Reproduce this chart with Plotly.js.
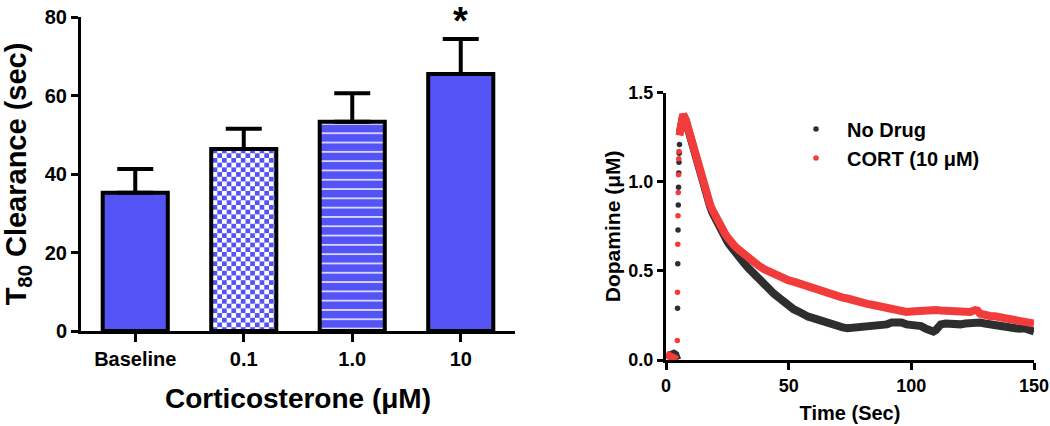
<!DOCTYPE html>
<html>
<head>
<meta charset="utf-8">
<script src="https://cdn.plot.ly/plotly-3.0.1.min.js"></script>
<style>html,body{margin:0;padding:0;background:#fff;}#chart{width:1050px;height:426px;}</style>
</head>
<body>
<div id="chart"></div>
<script>
// ---------- Left panel: T80 clearance bars ----------
const barCategories = ['Baseline', '0.1', '1.0', '10'];
const barMeans = [35.2, 46.4, 53.3, 65.5];
const barSEM = [6.1, 5.1, 7.3, 8.9];
const sigLabel = '*';
const sigCategory = '10';
const sigY = 78.9;

// ---------- Right panel: dopamine traces ----------
// No Drug
const noDrugBaseT = [0.8, 1.5, 2.5, 3.2, 3.8, 4.3, 4.6];
const noDrugBaseC = [0.02, 0.025, 0.035, 0.035, 0.03, 0.012, 0.0];
const noDrugRiseT = [4.7, 4.8, 4.9, 5.0, 5.1, 5.2, 5.3, 5.4, 5.5];
const noDrugRiseC = [0.29, 0.54, 0.73, 0.87, 0.97, 1.05, 1.11, 1.16, 1.21];
const noDrugDecayT = [5.7, 6.2, 7, 8, 9, 10, 11, 12, 13, 14, 15, 16, 17, 18, 19, 20, 21, 22, 23, 24, 25, 26, 27, 28, 30, 32, 34, 36, 38, 40, 42, 44, 46, 48, 50, 52, 54, 56, 58, 60, 62, 64, 66, 68, 70, 72, 74, 76, 78, 79, 80, 82, 84, 86, 88, 90, 92, 94, 96, 98, 100, 102, 104, 106, 108, 109, 110, 112, 114, 116, 118, 120, 122, 124, 126, 128, 130, 132, 134, 136, 138, 140, 142, 144, 146, 148, 150];
const noDrugDecayC = [1.28, 1.34, 1.372, 1.345, 1.295, 1.245, 1.19, 1.13, 1.08, 1.03, 0.98, 0.935, 0.895, 0.86, 0.825, 0.795, 0.765, 0.735, 0.71, 0.685, 0.665, 0.645, 0.625, 0.605, 0.57, 0.54, 0.51, 0.48, 0.455, 0.425, 0.398, 0.372, 0.35, 0.325, 0.30, 0.285, 0.272, 0.255, 0.243, 0.235, 0.225, 0.215, 0.208, 0.198, 0.19, 0.183, 0.178, 0.18, 0.178, 0.19, 0.185, 0.185, 0.19, 0.19, 0.195, 0.20, 0.21, 0.215, 0.21, 0.20, 0.197, 0.195, 0.19, 0.175, 0.165, 0.16, 0.168, 0.20, 0.205, 0.20, 0.205, 0.20, 0.205, 0.21, 0.215, 0.21, 0.205, 0.20, 0.195, 0.19, 0.185, 0.178, 0.18, 0.175, 0.178, 0.17, 0.16];

// CORT (10 uM)
const cortBaseT = [0, 1, 2, 3, 3.8, 4.4];
const cortBaseC = [0.032, 0.028, 0.02, 0.012, 0.006, 0.0];
const cortRiseT = [4.6, 4.7, 4.8, 4.9, 5.0, 5.1, 5.2, 5.3];
const cortRiseC = [0.11, 0.38, 0.65, 0.81, 0.94, 1.04, 1.13, 1.17];
const cortDecayT = [5.5, 6.1, 7, 8, 9, 10, 11, 12, 13, 14, 15, 16, 17, 18, 19, 20, 21, 22, 23, 24, 25, 26, 28, 30, 32, 34, 36, 38, 40, 42, 44, 46, 48, 50, 52, 54, 56, 58, 60, 62, 64, 66, 68, 70, 72, 74, 76, 78, 80, 82, 84, 86, 88, 90, 92, 94, 96, 98, 100, 102, 104, 106, 108, 110, 112, 114, 116, 118, 120, 122, 124, 126, 127, 128, 130, 132, 134, 136, 138, 140, 142, 144, 146, 148, 150];
const cortDecayC = [1.26, 1.34, 1.38, 1.35, 1.30, 1.25, 1.20, 1.14, 1.09, 1.04, 0.99, 0.945, 0.905, 0.87, 0.84, 0.81, 0.78, 0.755, 0.73, 0.71, 0.69, 0.67, 0.64, 0.615, 0.59, 0.565, 0.545, 0.527, 0.51, 0.495, 0.48, 0.468, 0.457, 0.447, 0.44, 0.43, 0.425, 0.415, 0.41, 0.40, 0.39, 0.375, 0.365, 0.36, 0.35, 0.345, 0.335, 0.33, 0.325, 0.315, 0.31, 0.305, 0.30, 0.29, 0.28, 0.275, 0.27, 0.27, 0.272, 0.275, 0.277, 0.275, 0.28, 0.28, 0.278, 0.276, 0.278, 0.275, 0.27, 0.265, 0.27, 0.28, 0.277, 0.26, 0.25, 0.247, 0.245, 0.24, 0.237, 0.234, 0.228, 0.225, 0.22, 0.215, 0.205];

const seriesNames = ['No Drug', 'CORT (10 \u03BCM)'];

// ---------- styling ----------
const BLUE = '#5454F6';
const RED = '#F23B3B';
const DARK = '#2E2E2E';
const FONT = 'Liberation Sans, Arial, Helvetica, sans-serif';
const f = (size) => ({family: FONT, size: size, color: '#000', weight: 'bold'});
const CHECK = 9.4;

const bars = {
  type: 'bar', x: barCategories, y: barMeans, xaxis: 'x', yaxis: 'y',
  width: 0.6, showlegend: false,
  marker: {
    color: BLUE,
    line: {color: '#000', width: 4},
    pattern: {
      shape: ['', '.', '-', ''],
      fgcolor: [BLUE, BLUE, '#FFFFFF', BLUE],
      bgcolor: [BLUE, '#FFFFFF', BLUE, BLUE],
      size: [8, CHECK, 9.3, 8],
      solidity: [0.5, 0.5, 0.15, 0.5]
    }
  },
  error_y: {type: 'data', symmetric: false, array: barSEM, arrayminus: barSEM.map(() => 0),
            color: '#000', thickness: 4, width: 18}
};

function lineTrace(baseT, baseC, decayT, decayC, color) {
  return {type: 'scatter', mode: 'lines', xaxis: 'x2', yaxis: 'y2', showlegend: false,
    x: baseT.concat([null], decayT), y: baseC.concat([null], decayC),
    line: {color: color, width: 8}, connectgaps: false, cliponaxis: false, hoverinfo: 'skip'};
}
function dotTrace(riseT, riseC, color, name) {
  return {type: 'scatter', mode: 'markers', xaxis: 'x2', yaxis: 'y2', name: name,
    x: riseT, y: riseC, marker: {color: color, size: 5.5}, cliponaxis: false};
}

const data = [
  bars,
  lineTrace(noDrugBaseT, noDrugBaseC, noDrugDecayT, noDrugDecayC, DARK),
  dotTrace(noDrugRiseT, noDrugRiseC, DARK, seriesNames[0]),
  lineTrace(cortBaseT, cortBaseC, cortDecayT, cortDecayC, RED),
  dotTrace(cortRiseT, cortRiseC, RED, seriesNames[1])
];

const layout = {
  width: 1050, height: 426,
  margin: {l: 0, r: 0, t: 0, b: 0},
  paper_bgcolor: '#fff', plot_bgcolor: 'rgba(0,0,0,0)',
  font: f(18),
  showlegend: true,
  legend: {x: 785/1050, y: 0.743, xanchor: 'left', yanchor: 'top', font: f(20),
           bgcolor: 'rgba(0,0,0,0)', itemwidth: 52, tracegroupgap: 0},
  xaxis: {
    domain: [81/1050, 515/1050], anchor: 'y', type: 'category', range: [-0.5, 3.5],
    showline: true, linewidth: 3, linecolor: '#000', ticks: 'outside', ticklen: 8,
    tickwidth: 3, tickcolor: '#000', tickfont: f(20), showgrid: false, zeroline: false,
    title: {text: 'Corticosterone (\u03BCM)', font: f(28), standoff: 20}, automargin: false
  },
  yaxis: {
    domain: [95/426, 409/426], anchor: 'x', range: [0, 80], dtick: 20,
    showline: true, linewidth: 3, linecolor: '#000', ticks: 'outside', ticklen: 7,
    tickwidth: 3, tickcolor: '#000', tickfont: f(20), showgrid: false, zeroline: false,
    title: {text: 'T<sub>80</sub> Clearance (sec)', font: f(29), standoff: 10}, automargin: false
  },
  xaxis2: {
    domain: [666/1050, 1034/1050], anchor: 'y2', range: [0, 150], dtick: 50,
    showline: true, linewidth: 3, linecolor: '#000', ticks: 'outside', ticklen: 7,
    tickwidth: 3, tickcolor: '#000', tickfont: f(18), showgrid: false, zeroline: false,
    title: {text: 'Time (Sec)', font: f(20), standoff: 12}, automargin: false
  },
  yaxis2: {
    domain: [66/426, 333.3/426], anchor: 'x2', range: [0, 1.5], dtick: 0.5, tickformat: '.1f',
    showline: true, linewidth: 3, linecolor: '#000', ticks: 'outside', ticklen: 6,
    tickwidth: 3, tickcolor: '#000', tickfont: f(18), showgrid: false, zeroline: false,
    title: {text: 'Dopamine (\u03BCM)', font: f(21), standoff: 3}, automargin: false
  },
  annotations: [{
    xref: 'x', yref: 'y', x: barCategories.indexOf(sigCategory), y: sigY, text: sigLabel,
    showarrow: false, font: f(38), xanchor: 'center', yanchor: 'middle'
  }]
};

const SVGNS = 'http://www.w3.org/2000/svg';
Plotly.newPlot('chart', data, layout, {staticPlot: true, displayModeBar: false}).then(function (gd) {
  // turn the dotted pattern tile of the 0.1 bar into a checkerboard tile
  const h = CHECK / 2;
  gd.querySelectorAll('pattern').forEach(function (p) {
    const w = parseFloat(p.getAttribute('width'));
    if (Math.abs(w - CHECK) < 0.01) {
      Array.from(p.querySelectorAll('circle, path')).forEach(function (el) { el.remove(); });
      const path = document.createElementNS(SVGNS, 'path');
      path.setAttribute('d', 'M0,0H' + h + 'V' + h + 'H0Z M' + h + ',' + h + 'H' + CHECK + 'V' + CHECK + 'H' + h + 'Z');
      path.setAttribute('fill', BLUE);
      path.setAttribute('stroke', 'none');
      p.appendChild(path);
    }
  });
});
</script>
</body>
</html>
